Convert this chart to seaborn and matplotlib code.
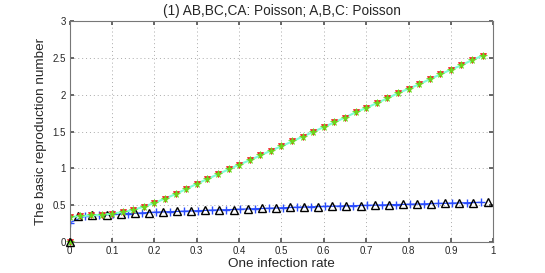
import matplotlib
matplotlib.use("Agg")
import matplotlib.pyplot as plt
import seaborn as sns
import pandas as pd

# upper curve: AB,BC,CA / A,B,C Poisson (x step 0.025)
x_upper = [0.000, 0.025, 0.050, 0.075, 0.100, 0.125, 0.150, 0.175, 0.200, 0.225,
           0.250, 0.275, 0.300, 0.325, 0.350, 0.375, 0.400, 0.425, 0.450, 0.475,
           0.500, 0.525, 0.550, 0.575, 0.600, 0.625, 0.650, 0.675, 0.700, 0.725,
           0.750, 0.775, 0.800, 0.825, 0.850, 0.875, 0.900, 0.925, 0.950, 0.975]
r_upper = [0.34, 0.35, 0.36, 0.37, 0.385, 0.405, 0.435, 0.48, 0.53, 0.59,
           0.65, 0.72, 0.79, 0.855, 0.92, 0.985, 1.05, 1.11, 1.175, 1.24,
           1.30, 1.365, 1.43, 1.495, 1.56, 1.625, 1.69, 1.76, 1.82, 1.885,
           1.95, 2.02, 2.08, 2.14, 2.21, 2.275, 2.34, 2.40, 2.47, 2.53]

# lower curve, black triangles
x_tri = [0.020, 0.053, 0.087, 0.120, 0.153, 0.187, 0.220, 0.253, 0.287, 0.320,
         0.353, 0.387, 0.420, 0.453, 0.487, 0.520, 0.553, 0.587, 0.620, 0.653,
         0.687, 0.720, 0.753, 0.787, 0.820, 0.853, 0.887, 0.920, 0.953, 0.987]
r_tri = [0.35, 0.36, 0.37, 0.38, 0.39, 0.40, 0.41, 0.415, 0.42, 0.43,
         0.435, 0.44, 0.45, 0.455, 0.46, 0.47, 0.475, 0.48, 0.485, 0.49,
         0.495, 0.50, 0.505, 0.51, 0.515, 0.52, 0.525, 0.53, 0.535, 0.54]

# lower curve, blue pluses
x_plus = [0.000, 0.037, 0.070, 0.103, 0.137, 0.170, 0.203, 0.237, 0.270, 0.303,
          0.337, 0.370, 0.403, 0.437, 0.470, 0.503, 0.537, 0.570, 0.603, 0.637,
          0.670, 0.703, 0.737, 0.770, 0.803, 0.837, 0.870, 0.903, 0.937, 0.970]
r_plus = [0.26, 0.355, 0.365, 0.375, 0.385, 0.395, 0.405, 0.412, 0.418, 0.425,
          0.433, 0.438, 0.445, 0.452, 0.458, 0.465, 0.472, 0.478, 0.483, 0.488,
          0.493, 0.498, 0.503, 0.508, 0.513, 0.518, 0.523, 0.528, 0.533, 0.538]

# point at the origin
x_origin = [0.0]
r_origin = [0.0]

x_ticks = [0, 0.1, 0.2, 0.3, 0.4, 0.5, 0.6, 0.7, 0.8, 0.9, 1]
x_tick_labels = ["0", "0.1", "0.2", "0.3", "0.4", "0.5", "0.6", "0.7", "0.8", "0.9", "1"]
y_ticks = [0, 0.5, 1, 1.5, 2, 2.5, 3]
y_tick_labels = ["0", "0.5", "1", "1.5", "2", "2.5", "3"]

RED = "#ee2222"
GREEN = "#66e01a"
BLUE = "#2a4dff"
CYAN = "#7fffd4"


def setup_plot_style():
    sns.set_theme(style="white")
    plt.rcParams["font.family"] = ["Liberation Sans", "DejaVu Sans"]
    plt.rcParams["xtick.direction"] = "in"
    plt.rcParams["ytick.direction"] = "in"
    fig = plt.figure(figsize=(5.45, 2.73), dpi=100)
    ax = fig.add_axes([0.128, 0.1136, 0.777, 0.8094])
    return fig, ax


def markers(ax, df, marker, size, face, edge, lw=1.0, **kw):
    sns.lineplot(data=df, x="x", y="r", ax=ax, linestyle="", marker=marker,
                 markersize=size, markerfacecolor=face, markeredgecolor=edge,
                 markeredgewidth=lw, sort=False, **kw)


def draw(ax):
    up = pd.DataFrame({"x": x_upper, "r": r_upper})
    tri = pd.DataFrame({"x": x_tri, "r": r_tri})
    plus = pd.DataFrame({"x": x_plus, "r": r_plus})
    org = pd.DataFrame({"x": x_origin, "r": r_origin})

    # lower curve
    sns.lineplot(data=plus, x="x", y="r", ax=ax, color=BLUE, linewidth=0.9, sort=False)
    markers(ax, plus, "+", 6, BLUE, BLUE, lw=1.0)
    markers(ax, tri, "^", 5.5, "none", "black", lw=1.0)

    # upper curve
    sns.lineplot(data=up, x="x", y="r", ax=ax, color=CYAN, linewidth=1.5, sort=False)
    markers(ax, up, "v", 5, RED, RED, lw=0.5)
    markers(ax, up, "*", 5.5, GREEN, GREEN, lw=0.5)

    # origin
    markers(ax, org, "v", 5, RED, RED, lw=0.5, clip_on=False, zorder=5)
    markers(ax, org, "*", 5.5, GREEN, GREEN, lw=0.5, clip_on=False, zorder=5)
    markers(ax, org, "^", 5.5, "none", "black", lw=1.0, clip_on=False, zorder=6)


def customize(ax):
    ax.set_xlim(0, 1)
    ax.set_ylim(0, 3)
    ax.set_xticks(x_ticks)
    ax.set_xticklabels(x_tick_labels)
    ax.set_yticks(y_ticks)
    ax.set_yticklabels(y_tick_labels)
    ax.tick_params(axis="both", labelsize=7, length=3, color="#555555",
                   pad=3, top=True, right=True, bottom=True, left=True)
    ax.grid(True, linestyle=(0, (1, 3)), color="#aaaaaa", linewidth=0.7)
    for s in ax.spines.values():
        s.set_color("#777777")
        s.set_linewidth(0.8)
    ax.set_title("(1) AB,BC,CA: Poisson; A,B,C: Poisson", fontsize=9.8, pad=4)
    ax.set_xlabel("One infection rate", fontsize=9.7, labelpad=1)
    ax.set_ylabel("The basic reproduction number", fontsize=9.7, labelpad=4)


def main():
    fig, ax = setup_plot_style()
    draw(ax)
    customize(ax)
    fig.savefig("out.png", dpi=100)


if __name__ == "__main__":
    main()
